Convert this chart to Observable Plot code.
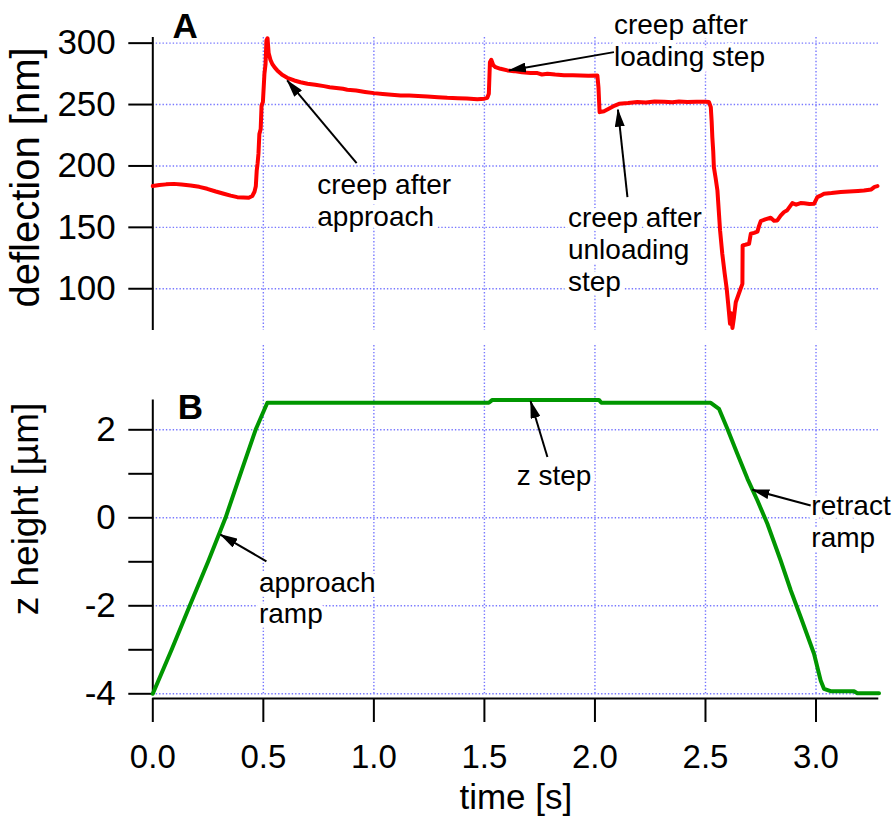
<!DOCTYPE html>
<html>
<head>
<meta charset="utf-8">
<script src="https://cdn.jsdelivr.net/npm/d3@7"></script>
<script src="https://cdn.jsdelivr.net/npm/@observablehq/plot@0.6"></script>
<style>
  html, body { margin: 0; padding: 0; background: white; }
  #chart svg { display: block; }
  #chart g[aria-label="y-axis tick"], #chart g[aria-label="x-axis tick"] { stroke-width: 2px; }
  #chart .tick line { stroke-width: 2px; }
</style>
</head>
<body>
<div id="chart"></div>
<script>
// ---------- data ----------
const defTime = [0.000,0.030,0.060,0.095,0.130,0.171,0.210,0.246,0.285,0.321,0.352,0.382,0.410,0.434,0.450,0.460,0.466,0.470,0.474,0.478,0.482,0.488,0.492,0.498,0.505,0.510,0.514,0.519,0.524,0.532,0.540,0.552,0.563,0.585,0.608,0.640,0.668,0.700,0.735,0.774,0.800,0.830,0.860,0.880,0.920,0.960,1.000,1.040,1.080,1.121,1.160,1.200,1.242,1.290,1.332,1.380,1.420,1.468,1.500,1.513,1.520,1.525,1.531,1.540,1.550,1.573,1.604,1.634,1.670,1.709,1.740,1.760,1.785,1.820,1.860,1.900,1.935,1.970,2.011,2.016,2.021,2.041,2.071,2.090,2.109,2.150,2.192,2.230,2.270,2.312,2.350,2.380,2.418,2.460,2.500,2.516,2.524,2.528,2.531,2.535,2.538,2.546,2.554,2.561,2.566,2.576,2.587,2.596,2.602,2.611,2.616,2.622,2.629,2.637,2.656,2.667,2.668,2.680,2.697,2.705,2.720,2.735,2.742,2.750,2.770,2.795,2.810,2.825,2.840,2.855,2.870,2.893,2.910,2.930,2.946,2.970,2.991,3.006,3.020,3.036,3.070,3.112,3.150,3.190,3.217,3.250,3.265,3.278];
const defValue = [183.6,184.5,185.0,185.4,184.8,184.1,183.0,181.4,179.2,177.4,175.8,174.6,174.3,174.1,175.5,179.0,183.5,196.0,202.0,210.0,226.0,230.0,249.3,252.0,275.1,283.0,302.2,304.0,292.0,286.5,283.2,280.0,277.8,274.2,271.8,269.6,268.2,267.0,266.2,265.0,264.1,263.5,262.8,262.1,261.4,260.3,259.3,258.6,258.0,257.4,257.3,257.0,256.6,256.0,255.5,255.2,255.0,254.4,254.8,255.5,258.8,284.5,286.5,282.0,280.5,279.1,277.8,277.2,276.2,275.6,275.6,274.5,275.1,274.4,273.9,273.8,273.7,273.4,273.7,264.0,243.8,244.6,247.4,249.2,250.6,251.2,252.0,251.6,252.4,252.3,251.8,252.4,252.0,252.3,252.2,252.0,247.9,236.0,223.5,212.0,199.0,190.0,180.0,161.1,147.5,128.5,112.2,100.0,89.0,71.5,80.0,68.0,76.9,89.0,98.6,104.0,135.3,135.8,136.6,144.8,145.5,146.5,151.0,155.0,156.5,157.8,155.4,155.6,159.5,162.4,164.0,169.7,168.5,169.8,169.7,169.0,169.2,174.6,175.8,177.4,177.9,178.7,179.1,179.6,180.0,180.9,183.0,183.6];

const zTime = [0.000,0.085,0.167,0.250,0.329,0.400,0.465,0.518,1.520,1.536,2.018,2.029,2.524,2.561,2.599,2.644,2.690,2.735,2.780,2.840,2.886,2.931,2.991,3.021,3.036,3.066,3.172,3.187,3.285];
const zValue = [-4.00,-3.00,-2.00,-1.00,0.00,1.05,2.00,2.614,2.614,2.680,2.680,2.614,2.614,2.477,2.023,1.455,0.886,0.393,-0.136,-0.970,-1.652,-2.259,-3.091,-3.698,-3.886,-3.941,-3.941,-3.986,-3.986];

const timeTicks = [0.0, 0.5, 1.0, 1.5, 2.0, 2.5, 3.0];
const defTicks = [100, 150, 200, 250, 300];
const zTicks = [-4, -3, -2, -1, 0, 1, 2];
const zGrid = [-4, -2, 0, 2];

const xDomain = [0, 3.284];
const defDomain = [66, 304.6];
const zDomain = [-4.107, 3.916];
const zAxisTop = 2.68;

// annotations
const annTopText = ["creep after\napproach", "creep after\nloading step", "creep after\nunloading\nstep"];
const annTopX = [0.744, 2.086, 1.878];
const annTopY = [195.7, 325.8, 168.6];
const arrTopX1 = [0.922, 2.086, 2.147];
const arrTopY1 = [202.3, 292.7, 174.6];
const arrTopX2 = [0.608, 1.611, 2.104];
const arrTopY2 = [269.6, 277.8, 245.8];

const annBotText = ["approach\nramp", "z step", "retract\nramp"];
const annBotX = [0.480, 1.646, 2.979];
const annBotY = [-1.161, 1.261, 0.58];
const arrBotX1 = [0.514, 1.785, 2.976];
const arrBotY1 = [-0.99, 1.38, 0.28];
const arrBotX2 = [0.306, 1.709, 2.712];
const arrBotY2 = [-0.38, 2.65, 0.636];

const panelLabels = ["A", "B"];
const panelX = [0.089, 0.113];
const panelY = [313.6, 2.507];

// ---------- build ----------
const defData = defTime.map((t, i) => ({t, v: defValue[i]}));
const zData = zTime.map((t, i) => ({t, z: zValue[i]}));
const annTop = annTopText.map((s, i) => ({s, x: annTopX[i], y: annTopY[i]}));
const annBot = annBotText.map((s, i) => ({s, x: annBotX[i], y: annBotY[i]}));
const arrTop = arrTopX1.map((d, i) => ({x1: d, y1: arrTopY1[i], x2: arrTopX2[i], y2: arrTopY2[i]}));
const arrBot = arrBotX1.map((d, i) => ({x1: d, y1: arrBotY1[i], x2: arrBotX2[i], y2: arrBotY2[i]}));

const FONT = "'Liberation Sans', Arial, Helvetica, sans-serif";
const GRID = "#7878ff";
const gridOpts = {stroke: GRID, strokeWidth: 1.4, strokeDasharray: "1.4,2"};
const annOpts = {text: "s", x: "x", y: "y", textAnchor: "start", lineAnchor: "top", fontSize: 28, lineHeight: 1.14, fill: "black", stroke: "white", strokeWidth: 9};

function finish(svg, id) {
  const s = d3.select(svg);
  s.append("defs").append("marker")
    .attr("id", id)
    .attr("viewBox", "0 0 18 10")
    .attr("refX", 17).attr("refY", 5)
    .attr("markerWidth", 18).attr("markerHeight", 10)
    .attr("markerUnits", "userSpaceOnUse")
    .attr("orient", "auto")
    .append("path").attr("d", "M0,0L18,5L0,10Z").attr("fill", "black");
  s.selectAll('g[aria-label="link"] path').attr("marker-end", `url(#${id})`);
  // tick label sizes
  s.selectAll('g[aria-label="y-axis tick label"]').attr("font-size", 35).style("font-size", "35px");
  s.selectAll('g[aria-label="x-axis tick label"]').attr("font-size", 33).style("font-size", "33px");
}

const topPlot = Plot.plot({
  width: 895, height: 340,
  marginLeft: 152.3, marginRight: 16.7, marginTop: 37, marginBottom: 10,
  style: {fontFamily: FONT, fontSize: "32px", background: "white", color: "black", overflow: "visible"},
  x: {domain: xDomain, axis: null},
  y: {domain: defDomain, ticks: defTicks, tickSize: 24, tickPadding: 13, tickFormat: d => String(d), label: null},
  marks: [
    Plot.ruleY(defTicks, gridOpts),
    Plot.ruleX(timeTicks.filter(d => d > 0), gridOpts),
    Plot.ruleX([0], {stroke: "black", strokeWidth: 2}),
    Plot.text(annTop, annOpts),
    Plot.line(defData, {x: "t", y: "v", stroke: "#ff0000", strokeWidth: 4, strokeLinejoin: "round"}),
    Plot.link(arrTop, {x1: "x1", y1: "y1", x2: "x2", y2: "y2", stroke: "black", strokeWidth: 2}),
    Plot.text([panelLabels[0]], {x: [panelX[0]], y: [panelY[0]], text: d => d, fontSize: 35, fontWeight: "bold", textAnchor: "start", lineAnchor: "middle", fill: "black"}),
    Plot.text(["deflection [nm]"], {frameAnchor: "left", text: d => d, rotate: -90, dx: -127, dy: -6.5, fontSize: 40, fill: "black", textAnchor: "middle", lineAnchor: "middle"})
  ]
});
finish(topPlot, "ahTop");

const botPlot = Plot.plot({
  width: 895, height: 487,
  marginLeft: 152.3, marginRight: 16.7, marginTop: 5, marginBottom: 129,
  style: {fontFamily: FONT, fontSize: "32px", background: "white", color: "black", overflow: "visible"},
  x: {domain: xDomain, ticks: timeTicks, tickSize: 24, tickPadding: 22, tickFormat: d3.format(".1f"), label: null},
  y: {domain: zDomain, ticks: zTicks, tickSize: 24, tickPadding: 13, tickFormat: d => (d % 2 === 0 ? String(d) : ""), label: null},
  marks: [
    Plot.ruleY(zGrid, gridOpts),
    Plot.ruleX(timeTicks.filter(d => d > 0), {...gridOpts, y1: zGrid[0], y2: zDomain[1]}),
    Plot.ruleX([0], {y1: zTicks[0], y2: zAxisTop, stroke: "black", strokeWidth: 2}),
    Plot.ruleY([zDomain[0]], {stroke: "black", strokeWidth: 2}),
    Plot.text(annBot, annOpts),
    Plot.line(zData, {x: "t", y: "z", stroke: "#009600", strokeWidth: 4, strokeLinejoin: "round"}),
    Plot.link(arrBot, {x1: "x1", y1: "y1", x2: "x2", y2: "y2", stroke: "black", strokeWidth: 2}),
    Plot.text([panelLabels[1]], {x: [panelX[1]], y: [panelY[1]], text: d => d, fontSize: 35, fontWeight: "bold", textAnchor: "start", lineAnchor: "middle", fill: "black"}),
    Plot.text(["z height [µm]"], {frameAnchor: "left", text: d => d, rotate: -90, dx: -127, dy: -13, fontSize: 37, fill: "black", textAnchor: "middle", lineAnchor: "middle"}),
    Plot.text(["time [s]"], {frameAnchor: "bottom", text: d => d, dy: 99, fontSize: 35, fill: "black", textAnchor: "middle", lineAnchor: "middle"})
  ]
});
finish(botPlot, "ahBot");

const chart = document.getElementById("chart");
chart.appendChild(topPlot);
chart.appendChild(botPlot);
</script>
</body>
</html>
